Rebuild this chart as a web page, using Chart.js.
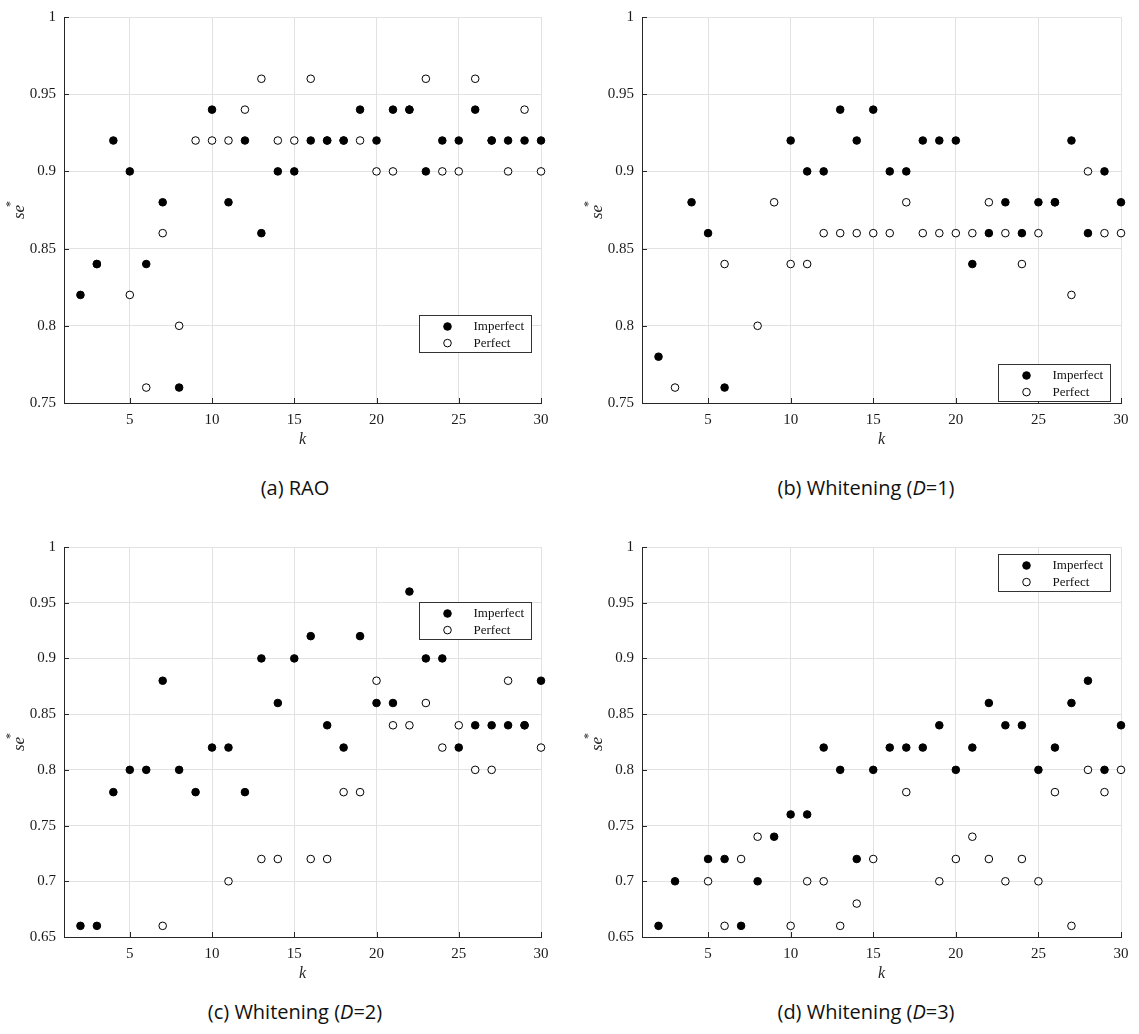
<!DOCTYPE html>
<html>
<head>
<meta charset="utf-8">
<script src="https://cdn.jsdelivr.net/npm/chart.js@4.4.0/dist/chart.umd.min.js"></script>
<style>
  body { margin: 0; background: #fff; width: 1139px; height: 1034px; position: relative; overflow: hidden; }
  canvas { position: absolute; }
  .cap { position: absolute; font-family: "Open Sans", sans-serif; font-size: 20px; line-height: 24px; color: #111;
         transform: translateX(-50%); white-space: nowrap; }
</style>
</head>
<body>
<canvas id="rao" width="560" height="460" style="left:0;top:0"></canvas>
<canvas id="d1" width="559" height="460" style="left:580px;top:0"></canvas>
<canvas id="d2" width="560" height="460" style="left:0;top:530px"></canvas>
<canvas id="d3" width="559" height="460" style="left:580px;top:530px"></canvas>

<div class="cap" style="left:295px;top:476px">(a) RAO</div>
<div class="cap" style="left:866px;top:476px">(b) Whitening (<i>D</i>=1)</div>
<div class="cap" style="left:295px;top:1000px">(c) Whitening (<i>D</i>=2)</div>
<div class="cap" style="left:866px;top:1000px">(d) Whitening (<i>D</i>=3)</div>

<script>
/* ---- data (k = 2..30, null = outside the plotted range) ---- */
const kValues = [2, 3, 4, 5, 6, 7, 8, 9, 10, 11, 12, 13, 14, 15, 16, 17, 18, 19, 20, 21, 22, 23, 24, 25, 26, 27, 28, 29, 30];

const raoImperfect = [0.82, 0.84, 0.92, 0.90, 0.84, 0.88, 0.76, null, 0.94, 0.88, 0.92, 0.86, 0.90, 0.90, 0.92,
                      0.92, 0.92, 0.94, 0.92, 0.94, 0.94, 0.90, 0.92, 0.92, 0.94, 0.92, 0.92, 0.92, 0.92];
const raoPerfect   = [null, 0.84, null, 0.82, 0.76, 0.86, 0.80, 0.92, 0.92, 0.92, 0.94, 0.96, 0.92, 0.92, 0.96,
                      0.92, 0.92, 0.92, 0.90, 0.90, 0.94, 0.96, 0.90, 0.90, 0.96, 0.92, 0.90, 0.94, 0.90];

const d1Imperfect  = [0.78, null, 0.88, 0.86, 0.76, null, null, null, 0.92, 0.90, 0.90, 0.94, 0.92, 0.94, 0.90,
                      0.90, 0.92, 0.92, 0.92, 0.84, 0.86, 0.88, 0.86, 0.88, 0.88, 0.92, 0.86, 0.90, 0.88];
const d1Perfect    = [null, 0.76, null, null, 0.84, null, 0.80, 0.88, 0.84, 0.84, 0.86, 0.86, 0.86, 0.86, 0.86,
                      0.88, 0.86, 0.86, 0.86, 0.86, 0.88, 0.86, 0.84, 0.86, 0.88, 0.82, 0.90, 0.86, 0.86];

const d2Imperfect  = [0.66, 0.66, 0.78, 0.80, 0.80, 0.88, 0.80, 0.78, 0.82, 0.82, 0.78, 0.90, 0.86, 0.90, 0.92,
                      0.84, 0.82, 0.92, 0.86, 0.86, 0.96, 0.90, 0.90, 0.82, 0.84, 0.84, 0.84, 0.84, 0.88];
const d2Perfect    = [null, null, null, null, null, 0.66, null, null, null, 0.70, null, 0.72, 0.72, null, 0.72,
                      0.72, 0.78, 0.78, 0.88, 0.84, 0.84, 0.86, 0.82, 0.84, 0.80, 0.80, 0.88, 0.84, 0.82];

const d3Imperfect  = [0.66, 0.70, null, 0.72, 0.72, 0.66, 0.70, 0.74, 0.76, 0.76, 0.82, 0.80, 0.72, 0.80, 0.82,
                      0.82, 0.82, 0.84, 0.80, 0.82, 0.86, 0.84, 0.84, 0.80, 0.82, 0.86, 0.88, 0.80, 0.84];
const d3Perfect    = [null, null, null, 0.70, 0.66, 0.72, 0.74, null, 0.66, 0.70, 0.70, 0.66, 0.68, 0.72, null,
                      0.78, null, 0.70, 0.72, 0.74, 0.72, 0.70, 0.72, 0.70, 0.78, 0.66, 0.80, 0.78, 0.80];

const xTicks = [5, 10, 15, 20, 25, 30];
const yTicksTop = [0.75, 0.8, 0.85, 0.9, 0.95, 1];
const yTicksBottom = [0.65, 0.7, 0.75, 0.8, 0.85, 0.9, 0.95, 1];
const seriesNames = ['Imperfect', 'Perfect'];

/* ---- look ---- */
const AXIS = '#262626';
const GRID = '#e2e2e2';
const SERIF = '"Liberation Serif", "Times New Roman", serif';

const toPoints = ys => kValues.map((k, i) => ({ x: k, y: ys[i] }));

// inward tick marks, axis titles and the boxed legend, drawn like the MATLAB figure
const decorations = {
  id: 'decorations',
  afterDraw(chart, args, opts) {
    const { ctx, chartArea: a, scales } = chart;
    ctx.save();
    ctx.strokeStyle = AXIS;
    ctx.lineWidth = 1;
    ctx.beginPath();
    scales.x.ticks.forEach(t => {
      const px = Math.round(scales.x.getPixelForValue(t.value)) + 0.5;
      ctx.moveTo(px, a.bottom); ctx.lineTo(px, a.bottom - 5);
    });
    scales.y.ticks.forEach(t => {
      const py = Math.round(scales.y.getPixelForValue(t.value)) + 0.5;
      ctx.moveTo(a.left, py); ctx.lineTo(a.left + 5, py);
    });
    ctx.stroke();

    // axis titles
    ctx.fillStyle = AXIS;
    ctx.font = 'italic 16px ' + SERIF;
    ctx.textAlign = 'center';
    ctx.textBaseline = 'middle';
    ctx.fillText('k', (a.left + a.right) / 2, a.bottom + 37);

    ctx.save();
    ctx.translate(a.left - 44, (a.top + a.bottom) / 2 + 2);
    ctx.rotate(-Math.PI / 2);
    ctx.font = 'italic 17px ' + SERIF;
    const w = ctx.measureText('se').width;
    ctx.fillText('se', 0, 0);
    ctx.font = '12px ' + SERIF;
    ctx.textAlign = 'left';
    ctx.fillText('*', w / 2 - 2, -9);
    ctx.restore();

    // legend box
    const bw = 112, bh = 37;
    const bx = Math.round(a.right - opts.right - bw) + 0.5;
    const by = Math.round(a.top + opts.top) + 0.5;
    ctx.fillStyle = '#fff';
    ctx.fillRect(bx, by, bw, bh);
    ctx.strokeStyle = '#333';
    ctx.strokeRect(bx, by, bw, bh);
    ctx.font = '13px ' + SERIF;
    ctx.textAlign = 'left';
    chart.data.datasets.forEach((ds, i) => {
      const cy = by + 11 + i * 16.6;
      ctx.beginPath();
      ctx.arc(bx + 28, cy, 3.8, 0, Math.PI * 2);
      ctx.fillStyle = ds.backgroundColor;
      ctx.fill();
      ctx.strokeStyle = '#000';
      ctx.stroke();
      ctx.fillStyle = '#111';
      ctx.fillText(ds.label, bx + 54, cy + 0.5);
    });
    ctx.restore();
  }
};

function panel(id, imperfect, perfect, yMin, yTicks, box) {
  const el = document.getElementById(id);
  return new Chart(el, {
    type: 'scatter',
    data: {
      datasets: [
        { label: seriesNames[0], data: toPoints(imperfect), backgroundColor: '#000', borderColor: '#000',
          pointRadius: 3.8, pointHoverRadius: 3.8, borderWidth: 1, clip: false },
        { label: seriesNames[1], data: toPoints(perfect), backgroundColor: '#fff', borderColor: '#000',
          pointRadius: 3.8, pointHoverRadius: 3.8, borderWidth: 1, clip: false }
      ]
    },
    options: {
      responsive: false,
      animation: false,
      events: [],
      layout: { padding: { top: box.padTop, right: box.padRight, left: 0, bottom: 0 } },
      plugins: { legend: { display: false }, tooltip: { enabled: false }, decorations: { right: box.right, top: box.top } },
      scales: {
        x: {
          type: 'linear', min: 1, max: 30,
          afterBuildTicks: s => { s.ticks = xTicks.map(v => ({ value: v })); },
          afterFit: s => { s.height = box.xHeight; },
          grid: { color: GRID, drawTicks: false },
          border: { color: AXIS, width: 1 },
          ticks: { padding: 8, color: '#1a1a1a', font: { family: SERIF, size: 15 } }
        },
        y: {
          type: 'linear', min: yMin, max: 1,
          afterBuildTicks: s => { s.ticks = yTicks.map(v => ({ value: v })); },
          afterFit: s => { s.width = box.yWidth; },
          grid: { color: GRID, drawTicks: false },
          border: { color: AXIS, width: 1 },
          ticks: { padding: 8, color: '#1a1a1a', font: { family: SERIF, size: 15 }, callback: v => String(v) }
        }
      }
    },
    plugins: [decorations]
  });
}

panel('rao', raoImperfect, raoPerfect, 0.75, yTicksTop,
      { padTop: 13, padRight: 19, xHeight: 57, yWidth: 64, right: 10, top: 298 });
panel('d1', d1Imperfect, d1Perfect, 0.75, yTicksTop,
      { padTop: 13, padRight: 18, xHeight: 57, yWidth: 62, right: 11, top: 347 });
panel('d2', d2Imperfect, d2Perfect, 0.65, yTicksBottom,
      { padTop: 16, padRight: 19, xHeight: 53, yWidth: 64, right: 10, top: 55 });
panel('d3', d3Imperfect, d3Perfect, 0.65, yTicksBottom,
      { padTop: 16, padRight: 18, xHeight: 53, yWidth: 62, right: 11, top: 7 });
</script>
</body>
</html>
